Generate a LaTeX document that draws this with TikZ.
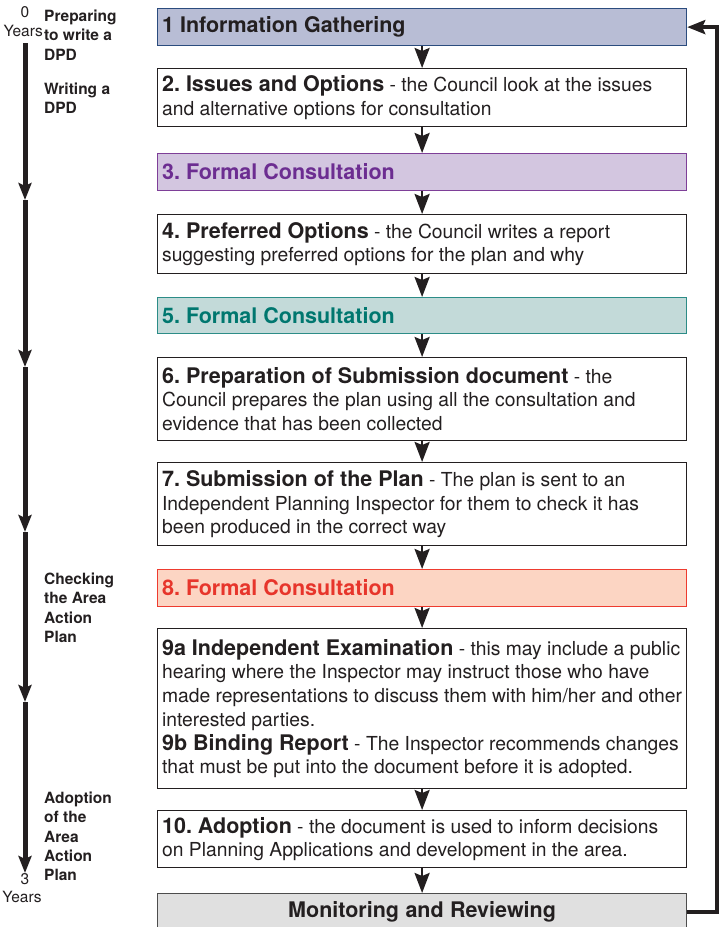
\documentclass[tikz,border=0pt]{standalone}
\usepackage{fontspec}
\setmainfont{TeX Gyre Heros}
\usetikzlibrary{arrows.meta}

\definecolor{ink}{HTML}{231F20}
\definecolor{infofill}{HTML}{B8BDD5}
\definecolor{infoline}{HTML}{2B4C7E}
\definecolor{purpfill}{HTML}{D3C6E0}
\definecolor{purpline}{HTML}{7E3F98}
\definecolor{purptext}{HTML}{6C2D91}
\definecolor{tealfill}{HTML}{C3DAD9}
\definecolor{tealline}{HTML}{2C8C87}
\definecolor{tealtext}{HTML}{00776F}
\definecolor{redfill}{HTML}{FCD5C3}
\definecolor{redline}{HTML}{EE3B2F}
\definecolor{redtext}{HTML}{E7352B}
\definecolor{monfill}{HTML}{E0E0E0}
\definecolor{monline}{HTML}{4D4D4D}

\newcommand{\stephead}[1]{{\fontsize{21.5}{23.7}\selectfont\bfseries #1}}
\frenchspacing
\hyphenpenalty=10000

\begin{document}
\begin{tikzpicture}[x=1pt,y=-1pt,
   box/.style={draw=ink,line width=1.2pt,fill=white,anchor=north west,text width=520pt,
               inner xsep=4.5pt,inner ysep=0pt,align=flush left,text=ink,
               font=\fontsize{19.3}{23.7}\selectfont},
   flow/.style={ink,line width=2.5pt,-{Stealth[length=20pt,width=15pt,inset=3pt]}},
   tl/.style={ink,line width=5pt,-{Stealth[length=17pt,width=13pt,inset=3pt]}},
   back/.style={ink,line width=4pt,-{Stealth[length=18pt,width=14pt,inset=3pt]}},
   lab/.style={anchor=north west,inner sep=0pt,align=flush left,text=ink,
               font=\fontsize{15.5}{19.2}\selectfont\bfseries},
   yr/.style={inner sep=0pt,text=ink,font=\fontsize{15.5}{18}\selectfont}]
  \useasboundingbox (0,0) rectangle (724,927);

  % stages
  \node[box,minimum height=37pt,fill=infofill,draw=infoline] (b1) at (157,8) {\stephead{1 Information Gathering}};
  \node[box,minimum height=58pt] (b2) at (157,68) {\stephead{2. Issues and Options} - the Council look at the issues\\and alternative options for consultation};
  \node[box,minimum height=37pt,fill=purpfill,draw=purpline,text=purptext] (b3) at (157,153) {\stephead{3. Formal Consultation}};
  \node[box,minimum height=59pt] (b4) at (157,214) {\stephead{4. Preferred Options} - the Council writes a report\\suggesting preferred options for the plan and why};
  \node[box,minimum height=36pt,fill=tealfill,draw=tealline,text=tealtext] (b5) at (157,297) {\stephead{5. Formal Consultation}};
  \node[box,minimum height=83pt] (b6) at (157,357) {\stephead{6. Preparation of Submission document} - the\\Council prepares the plan using all the consultation and\\evidence that has been collected};
  \node[box,minimum height=83pt] (b7) at (157,462) {\stephead{7. Submission of the Plan} - The plan is sent to an\\Independent Planning Inspector for them to check it has\\been produced in the correct way};
  \node[box,minimum height=37pt,fill=redfill,draw=redline,text=redtext] (b8) at (157,569) {\stephead{8. Formal Consultation}};
  \node[box,minimum height=160pt] (b9) at (157,628) {\stephead{9a Independent Examination} - this may include a public\\hearing where the Inspector may instruct those who have\\made representations to discuss them with him/her and other\\interested parties.\\\stephead{9b Binding Report} - The Inspector recommends changes\\that must be put into the document before it is adopted.};
  \node[box,minimum height=57pt] (b10) at (157,810) {\stephead{10. Adoption} - the document is used to inform decisions\\on Planning Applications and development in the area.};
  \node[box,minimum height=37pt,fill=monfill,draw=monline,align=center] (mon) at (157,893) {\stephead{Monitoring and Reviewing}};

  \foreach \a/\b in {b1/b2,b2/b3,b3/b4,b4/b5,b5/b6,b6/b7,b7/b8,b8/b9,b9/b10,b10/mon}
    \draw[flow] (\a.south) -- (\b.north);

  % loop back to the start
  \coordinate (rt) at (717,0);
  \draw[back] (mon.east) -- (mon.east -| rt) |- (b1.east);

  % time line
  \coordinate (t0) at (25,43);
  \coordinate (t1) at (25,200);
  \coordinate (t2) at (25,367);
  \coordinate (t3) at (25,532);
  \coordinate (t4) at (25,702);
  \coordinate (t5) at (25,873);
  \foreach \a/\b in {t0/t1,t1/t2,t2/t3,t3/t4,t4/t5}
    \draw[tl] (\a) -- (\b);

  \node[yr] (y0) at (25,12) {0};
  \node[yr,anchor=east] (y0u) at (43,31) {Years};
  \node[yr] (y3) at (25,879) {3};
  \node[yr] (y3u) at (22,897) {Years};

  \node[lab] (prep) at (44,10) {Preparing\\to write a\\DPD};
  \node[lab] (writ) at (44,83) {Writing a\\DPD};
  \node[lab] (chk) at (44,573) {Checking\\the Area\\Action\\Plan};
  \node[lab] (adopt) at (44,792) {Adoption\\of the\\Area\\Action\\Plan};
\end{tikzpicture}
\end{document}
